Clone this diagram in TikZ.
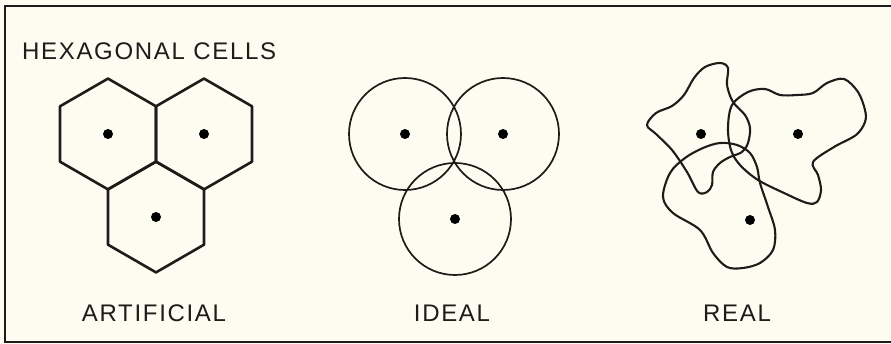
\documentclass[tikz,border=0pt]{standalone}
\usepackage{fontspec}
\setmainfont{Liberation Sans}[LetterSpace=7]
\definecolor{paper}{RGB}{253,252,241}
\definecolor{ink}{RGB}{30,28,26}
\begin{document}
\begin{tikzpicture}[x=1pt,y=-1pt,
  lbl/.style={font=\fontsize{24}{28}\selectfont, text=ink, inner sep=0pt},
  hexline/.style={draw=ink, line width=2.6pt, line join=round},
  circline/.style={draw=ink, line width=1.7pt},
  blobline/.style={draw=ink, line width=2.1pt, line join=round},
  frameline/.style={draw=ink, line width=2.8pt},
  dotmark/.style={fill=black}]
\fill[paper] (0,0) rectangle (891,344);
\useasboundingbox (0,0) rectangle (891,344);
% frame
\draw[frameline] (891,6) -- (5,6) -- (5,342) -- (891,342);
% title
\node[lbl, anchor=base west] (title) at (22,60) {HEXAGONAL CELLS};
% hexagons
\foreach \cx/\cy in {108/134, 204/134, 156/217}{
  \draw[hexline] ({\cx+47.98},{\cy-27.7}) -- (\cx,{\cy-55.4}) -- ({\cx-47.98},{\cy-27.7})
     -- ({\cx-47.98},{\cy+27.7}) -- (\cx,{\cy+55.4}) -- ({\cx+47.98},{\cy+27.7}) -- cycle;
  \fill[dotmark] (\cx,\cy) circle (5);
}
% circles
\foreach \cx/\cy in {405/134, 503/134, 455/219}{
  \draw[circline] (\cx,\cy) circle (56);
  \fill[dotmark] (\cx,\cy) circle (5);
}
% real blobs
\draw[blobline] plot[smooth cycle, tension=0.55] coordinates {
  (647,125) (656,113) (672,106) (684,95) (694,78) (705,67) (720,63) (728,68)
  (727,85) (733,102) (745,115) (750,128) (748,143) (742,152) (730,157)
  (720,163) (713,172) (712,185) (707,192) (698,192) (687,172) (672,150) (656,134)};
\draw[blobline] plot[smooth cycle, tension=0.55] coordinates {
  (748,92) (765,89) (780,95) (797,95) (813,93) (827,83) (844,79) (858,92)
  (865,110) (865,122) (856,135) (834,147) (813,162) (818,175) (821,190)
  (817,202) (807,203) (784,193) (758,180) (740,165) (731,150) (728,128) (732,105)};
\draw[blobline] plot[smooth cycle, tension=0.55] coordinates {
  (663,197) (673,213) (700,230) (713,253) (727,267) (743,268) (760,263)
  (773,250) (775,230) (768,207) (760,183) (757,167) (750,153) (737,145)
  (720,143) (703,148) (685,158) (670,173)};
\foreach \cx/\cy in {701/134, 798/134, 750/220}{
  \fill[dotmark] (\cx,\cy) circle (5);
}
% captions
\node[lbl, anchor=base] (artificial) at (154,322) {ARTIFICIAL};
\node[lbl, anchor=base] (ideal) at (452,322) {IDEAL};
\node[lbl, anchor=base] (real) at (737,322) {REAL};
\end{tikzpicture}
\end{document}
